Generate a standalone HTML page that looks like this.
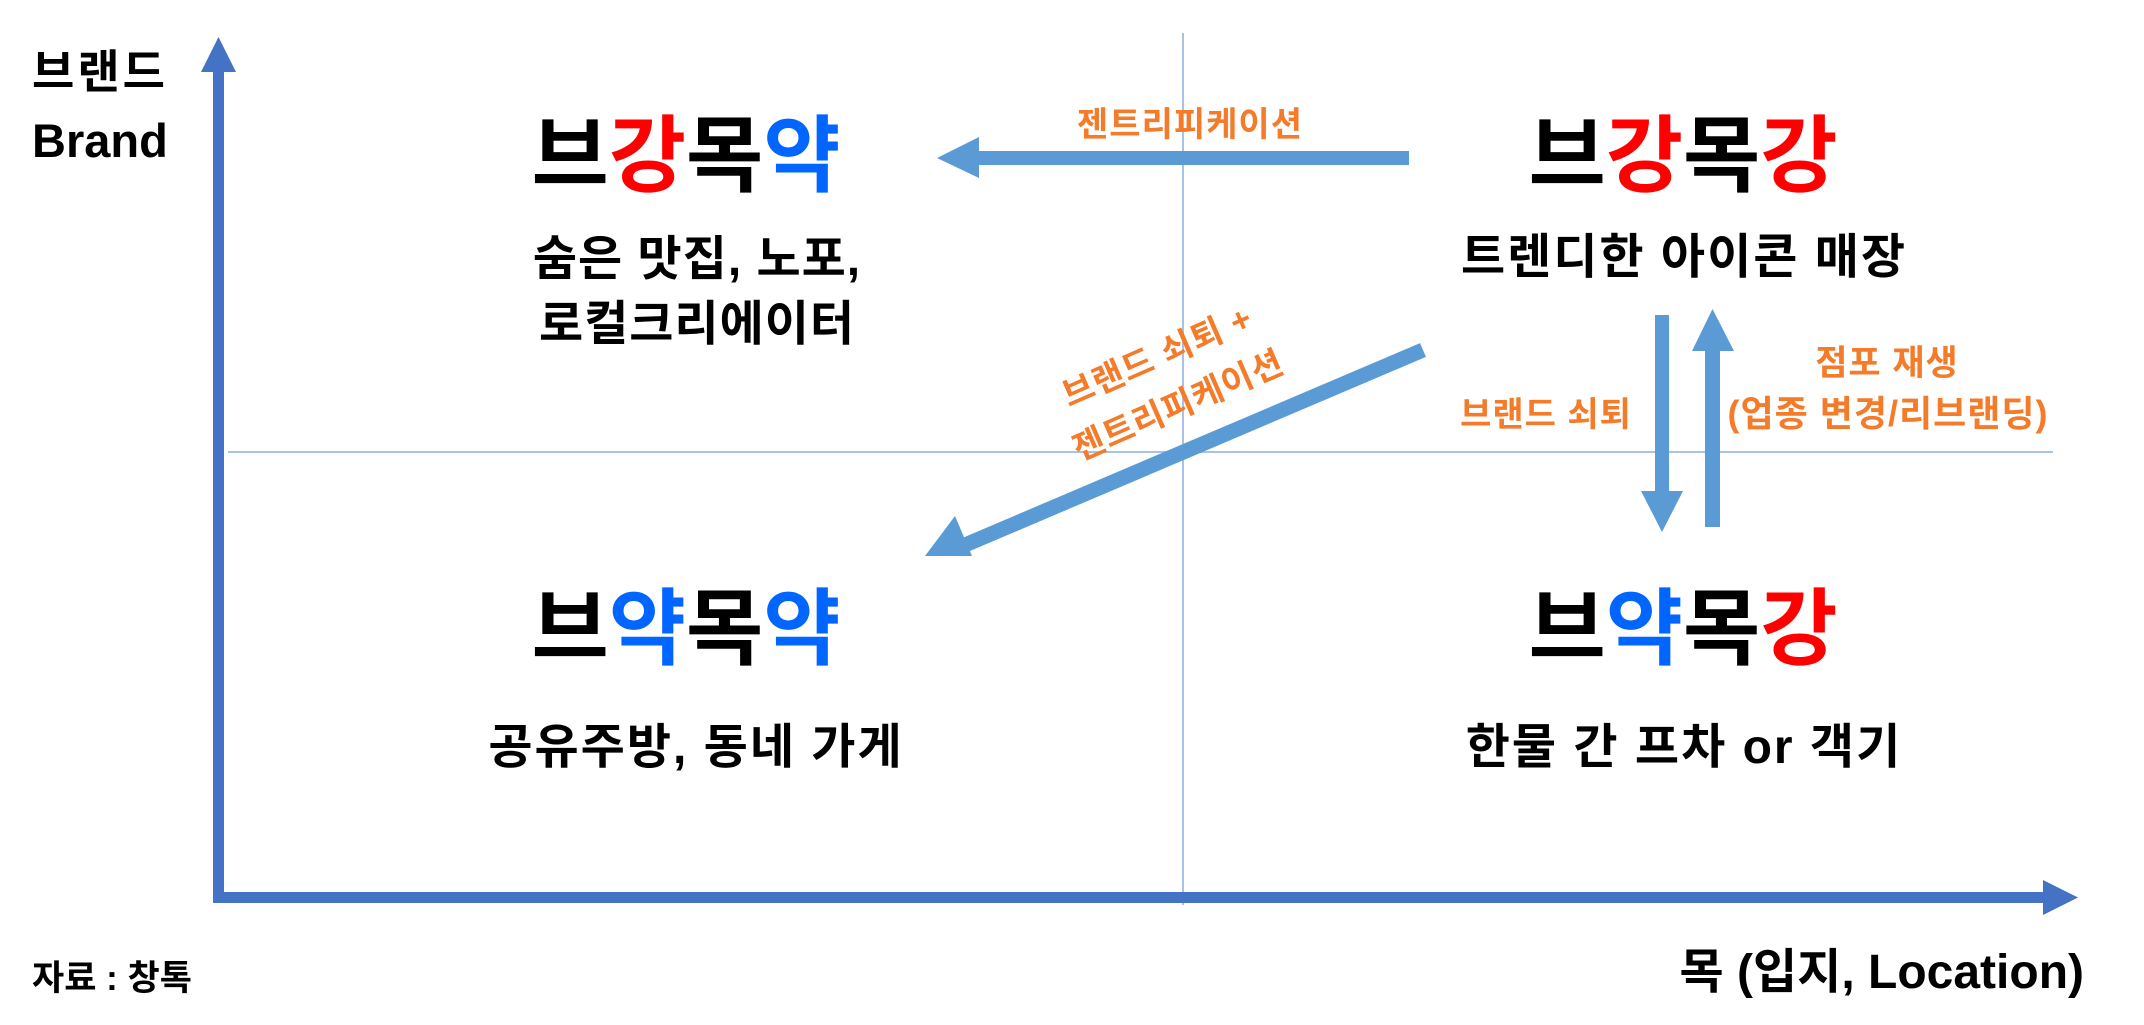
<!DOCTYPE html>
<html><head><meta charset="utf-8"><style>
html,body{margin:0;padding:0;background:#fff;}
svg{display:block;}
text{font-family:"Liberation Sans","Noto Sans CJK KR",sans-serif;font-weight:bold;}
</style></head><body>
<svg width="2144" height="1025" viewBox="0 0 2144 1025" xmlns="http://www.w3.org/2000/svg">
<line x1="228" y1="452" x2="2053" y2="452" stroke="#A9C0E8" stroke-width="2"/>
<line x1="1183" y1="33" x2="1183" y2="905" stroke="#A9C0E8" stroke-width="2"/>
<rect x="213" y="70" width="11" height="833" fill="#4472C4"/>
<polygon points="218.5,37 201,72 236,72" fill="#4472C4"/>
<rect x="213" y="892" width="1832" height="11" fill="#4472C4"/>
<polygon points="2078,897.5 2043,880 2043,915" fill="#4472C4"/>
<rect x="975" y="151" width="434" height="14" fill="#5B9BD5"/>
<polygon points="937,158 979,137 979,178" fill="#5B9BD5"/>
<line x1="1423" y1="350" x2="965" y2="545" stroke="#5B9BD5" stroke-width="15"/>
<polygon points="925,556 955,516 972,556" fill="#5B9BD5"/>
<rect x="1655" y="315" width="14" height="178" fill="#5B9BD5"/>
<polygon points="1662,532 1641,491 1683,491" fill="#5B9BD5"/>
<rect x="1705" y="349" width="15" height="178" fill="#5B9BD5"/>
<polygon points="1712.5,309 1692,351 1734,351" fill="#5B9BD5"/>

<text x="32" y="88" font-size="46" letter-spacing="3">브랜드</text>
<text x="32" y="157" font-size="47">Brand</text>
<text x="32" y="990" font-size="35">자료 : 창톡</text>
<text x="2084" y="988" font-size="48" text-anchor="end">목 (입지, Location)</text>

<text x="686" y="185" font-size="84" text-anchor="middle"><tspan>브</tspan><tspan fill="#FF0000">강</tspan><tspan>목</tspan><tspan fill="#0066FF">약</tspan></text>
<text x="1683" y="185" font-size="84" text-anchor="middle"><tspan>브</tspan><tspan fill="#FF0000">강</tspan><tspan>목</tspan><tspan fill="#FF0000">강</tspan></text>
<text x="686" y="658" font-size="84" text-anchor="middle"><tspan>브</tspan><tspan fill="#0066FF">약</tspan><tspan>목</tspan><tspan fill="#0066FF">약</tspan></text>
<text x="1683" y="658" font-size="84" text-anchor="middle"><tspan>브</tspan><tspan fill="#0066FF">약</tspan><tspan>목</tspan><tspan fill="#FF0000">강</tspan></text>

<text x="697" y="275" font-size="48" letter-spacing="1" text-anchor="middle">숨은 맛집, 노포,</text>
<text x="697" y="340" font-size="48" letter-spacing="1" text-anchor="middle">로컬크리에이터</text>
<text x="1684" y="273" font-size="48" letter-spacing="2" text-anchor="middle">트렌디한 아이콘 매장</text>
<text x="696" y="763" font-size="48" letter-spacing="2" text-anchor="middle">공유주방, 동네 가게</text>
<text x="1684" y="763" font-size="48" letter-spacing="2" text-anchor="middle">한물 간 프차 or 객기</text>

<g fill="#F47B2A">
<text x="1190" y="136" font-size="34" letter-spacing="1" text-anchor="middle">젠트리피케이션</text>
<text x="1546" y="426" font-size="34" letter-spacing="1" text-anchor="middle">브랜드 쇠퇴</text>
<text x="1887" y="375" font-size="35" letter-spacing="1" text-anchor="middle">점포 재생</text>
<text x="1888" y="426" font-size="36" letter-spacing="1" text-anchor="middle">(업종 변경/리브랜딩)</text>
<text transform="translate(1162,367) rotate(-23.5)" font-size="34" letter-spacing="1" text-anchor="middle">브랜드 쇠퇴 +</text>
<text transform="translate(1183,416) rotate(-23.5)" font-size="34" letter-spacing="1" text-anchor="middle">젠트리피케이션</text>
</g>
</svg>
</body></html>
